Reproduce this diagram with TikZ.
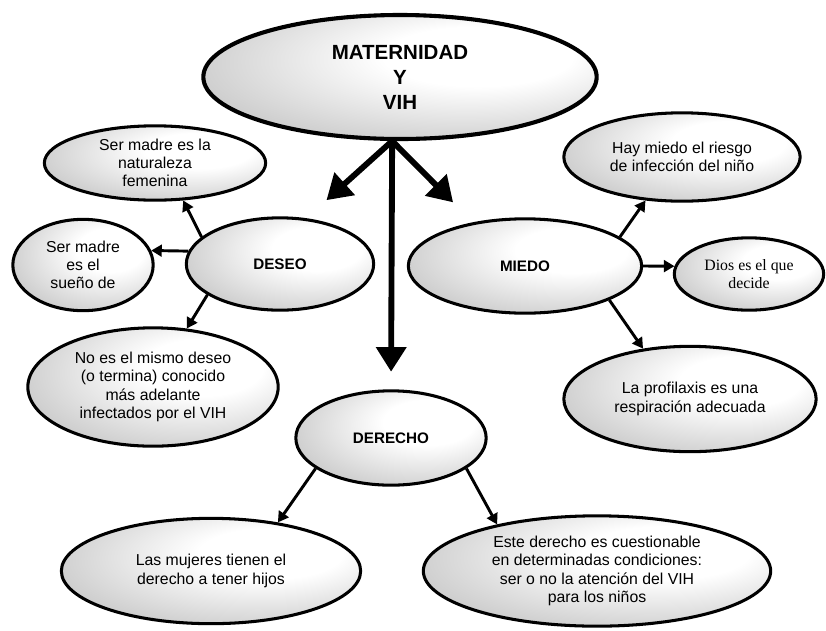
\documentclass[tikz,border=0pt]{standalone}
\usepackage{fontspec}
\setmainfont{Liberation Sans}
\newfontfamily\timesfont{Liberation Serif}
\usepackage{tikz}
\usetikzlibrary{arrows.meta}
\usetikzlibrary{shapes.geometric}
\pgfdeclareradialshading{ovalglow}{\pgfpoint{12bp}{10bp}}{color(0bp)=(white); color(12bp)=(white); color(38bp)=(white!76!black); color(52bp)=(white!63!black); color(70bp)=(white!60!black)}

\begin{document}
\begin{tikzpicture}[x=0.03cm, y=-0.03cm]
		\tikzset{oval/.style={shape = ellipse, draw, line width = 2.6pt, shading = ovalglow, inner sep = 0pt, align = center, font = \fontsize{13.5}{15.6}\selectfont}}
		\tikzset{topic/.style={oval, font = \fontsize{13}{15.6}\selectfont\bfseries}}
		\tikzset{edge/.style={-{Triangle[length = 9pt, width = 10pt]}, line width = 2.5pt}}
		\tikzset{big edge/.style={-{Triangle[length = 21pt, width = 25pt]}, line width = 5pt}}
		\useasboundingbox (0, 0) rectangle (826, 630);
					%vertices
					\node[oval, line width = 3.5pt, minimum width = 11.8cm, minimum height = 3.72cm, font = \fontsize{17.5}{21.3}\selectfont\bfseries] (main) at (400, 77) {MATERNIDAD\\Y\\VIH};
					\node[topic, minimum width = 5.62cm, minimum height = 2.77cm] (deseo) at (280, 264) {DESEO};
					\node[topic, minimum width = 7cm, minimum height = 2.83cm] (miedo) at (525, 266) {MIEDO};
					\node[topic, minimum width = 5.71cm, minimum height = 2.83cm] (derecho) at (391, 438) {DERECHO};
					\node[oval, minimum width = 6.64cm, minimum height = 2.23cm] (nat) at (155, 163) {Ser madre es la\\naturaleza\\femenina};
					\node[oval, minimum width = 4.21cm, minimum height = 2.74cm] (sueno) at (83, 265) {Ser madre\\es el\\sueño de};
					\node[oval, minimum width = 7.51cm, minimum height = 3.55cm] (noes) at (153, 387) {No es el mismo deseo\\(o termina) conocido\\más adelante\\infectados por el VIH};
					\node[oval, minimum width = 7.09cm, minimum height = 2.65cm] (hay) at (682, 157) {Hay miedo el riesgo\\de infección del niño};
					\node[oval, minimum width = 4.48cm, minimum height = 2.17cm, font = \fontsize{13.5}{15.6}\timesfont] (dios) at (749, 274) {Dios es el que\\decide};
					\node[oval, minimum width = 7.57cm, minimum height = 3.16cm] (prof) at (690, 399) {La profilaxis es una\\respiración adecuada};
					\node[oval, minimum width = 8.98cm, minimum height = 3.16cm] (mujeres) at (211, 571) {Las mujeres tienen el\\derecho a tener hijos};
					\node[oval, minimum width = 10.42cm, minimum height = 3.31cm] (este) at (597, 571) {Este derecho es cuestionable\\en determinadas condiciones:\\ser o no la atención del VIH\\para los niños};
					%edges
					\draw[big edge, shorten > = 23pt] (main.-97) -- (deseo.60);
					\draw[big edge, shorten > = 24pt] (main.-97) -- (miedo.140);
					\draw[big edge, shorten > = 15pt] (main.-97) -- (derecho.north);
					\draw[edge] (deseo.161) -- (nat.-53);
					\draw[edge] (deseo.172) -- (sueno.12);
					\draw[edge] (deseo.-157) -- (noes.60);
					\draw[edge] (miedo.17) -- (hay.-130);
					\draw[edge] (miedo.0) -- (dios.174);
					\draw[edge] (miedo.-22) -- (prof.133);
					\draw[edge] (derecho.-158) -- (mujeres.36);
					\draw[edge] (derecho.-22) -- (este.155);
					
					\end{tikzpicture}
\end{document}
